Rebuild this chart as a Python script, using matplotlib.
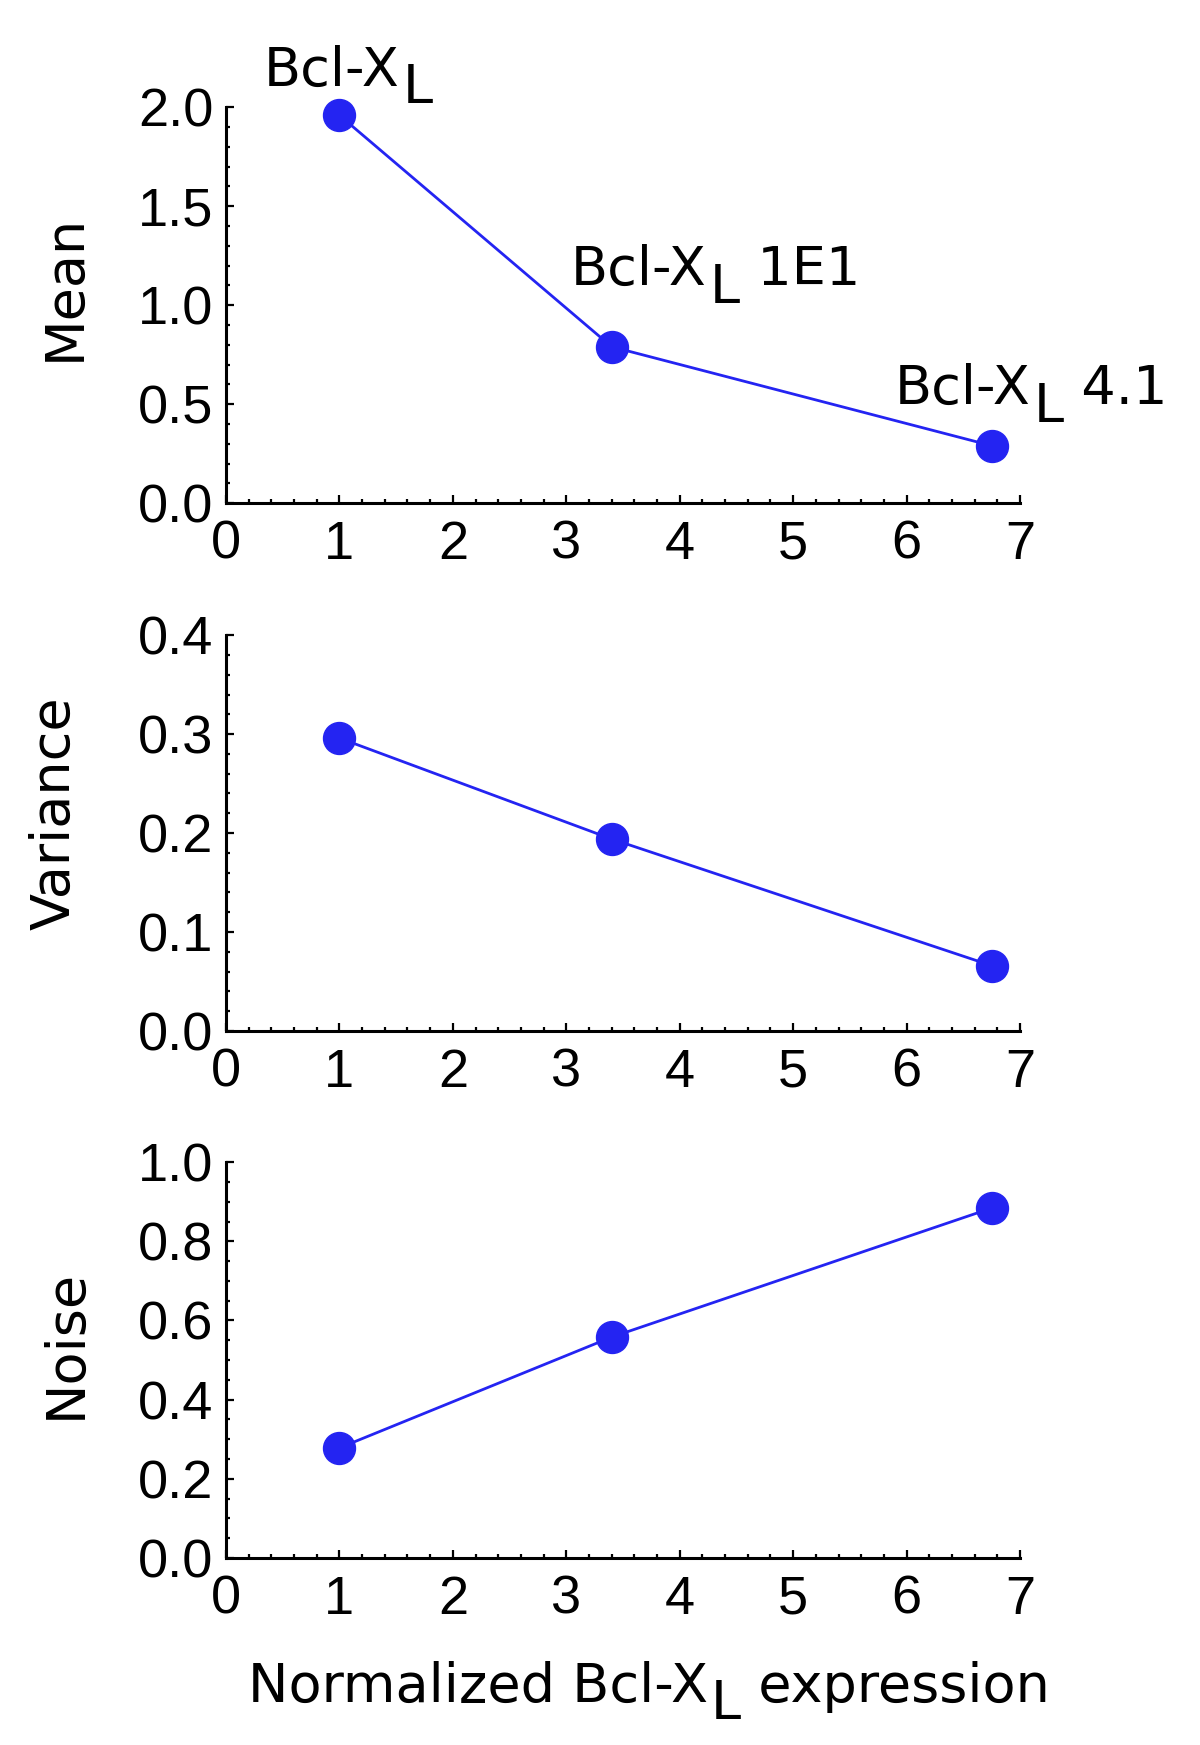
import matplotlib
matplotlib.use("Agg")
import matplotlib.pyplot as plt
from matplotlib.ticker import MultipleLocator, FormatStrFormatter

# data
expression = [1.0, 3.4, 6.75]
mean_vals = [1.96, 0.79, 0.29]
variance_vals = [0.296, 0.194, 0.066]
noise_vals = [0.278, 0.558, 0.884]
point_names = ["", " 1E1", " 4.1"]

BLUE = '#2424f2'
LABEL_FONT = 'DejaVu Sans'
TICK_FONT = 'Liberation Sans'
FS = 39

fig = plt.figure(figsize=(12, 17.45), dpi=100)

# ylabel, values, ymax, major step, minor step, label x, label y, axes bottom
panels = [
    ("Mean", mean_vals, 2.0, 0.5, 0.1, -0.203, 0.545, 0.7117),
    ("Variance", variance_vals, 0.4, 0.1, 0.02, -0.216, 0.549, 0.4092),
    ("Noise", noise_vals, 1.0, 0.2, 0.05, -0.202, 0.540, 0.1072),
]


def bcl_label(ax, t1, suffix):
    # big lowered L after "...Bcl-X", then the suffix back on the main baseline
    t2 = ax.annotate("L", xy=(1, 0), xycoords=t1, xytext=(2, -12.5),
                     textcoords='offset points', fontsize=FS,
                     family=LABEL_FONT, ha='left', va='bottom',
                     annotation_clip=False)
    t3 = ax.annotate(suffix, xy=(1, 0), xycoords=(t2, t1), xytext=(0, 0),
                     textcoords='offset points', fontsize=FS,
                     family=LABEL_FONT, ha='left', va='bottom',
                     annotation_clip=False)
    return t2, t3


axes = []
for name, vals, ymax, major, minor, lx, ly, bottom in panels:
    ax = fig.add_axes([0.1883, bottom, 0.6617, 0.2268])
    ax.plot(expression, vals, '-o', color=BLUE, lw=2.0, ms=23,
            mec=BLUE, mfc=BLUE, clip_on=False, zorder=3)
    ax.set_xlim(0, 7)
    ax.set_ylim(0, ymax)
    ax.spines['top'].set_visible(False)
    ax.spines['right'].set_visible(False)
    for s in ('left', 'bottom'):
        ax.spines[s].set_linewidth(2.2)
    ax.xaxis.set_major_locator(MultipleLocator(1))
    ax.xaxis.set_minor_locator(MultipleLocator(0.2))
    ax.yaxis.set_major_locator(MultipleLocator(major))
    ax.yaxis.set_minor_locator(MultipleLocator(minor))
    ax.xaxis.set_major_formatter(FormatStrFormatter('%d'))
    ax.yaxis.set_major_formatter(FormatStrFormatter('%.1f'))
    ax.tick_params(which='both', direction='in', top=False, right=False, width=1.6)
    ax.tick_params(which='major', length=5.5)
    ax.tick_params(which='minor', length=3)
    ax.tick_params(axis='x', which='major', pad=12)
    ax.tick_params(axis='y', which='major', pad=9)
    for lab in ax.get_xticklabels() + ax.get_yticklabels():
        lab.set_fontfamily(TICK_FONT)
        lab.set_fontsize(39)
    ax.set_ylabel(name, fontsize=FS, family=LABEL_FONT)
    ax.yaxis.set_label_coords(lx, ly)
    ax.yaxis.label.set_verticalalignment('center')
    axes.append(ax)

# point labels on the mean panel
top = axes[0]
label_pos = [(0.335, 2.11), (3.04, 1.10), (5.90, 0.50)]
for (px, py), suffix in zip(label_pos, point_names):
    t1 = top.text(px, py, "Bcl-X", fontsize=FS, family=LABEL_FONT,
                  ha='left', va='baseline')
    bcl_label(top, t1, suffix)

# x axis label
t1 = fig.text(0.2067, 0.0246, "Normalized Bcl-X", fontsize=FS,
              family=LABEL_FONT, ha='left', va='baseline')
bcl_label(axes[-1], t1, " expression")

fig.savefig("out.png", dpi=100)
